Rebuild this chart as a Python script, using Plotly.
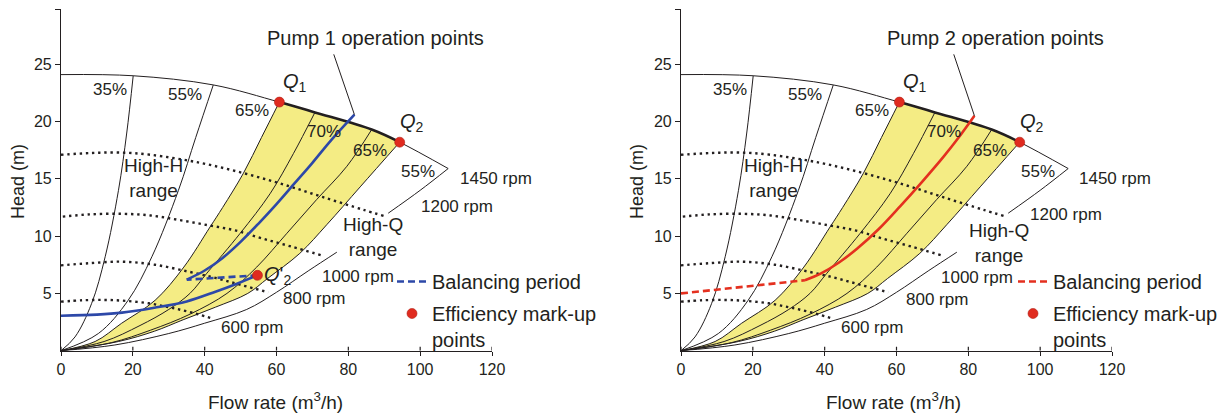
import plotly.graph_objects as go

# ---------------- data ----------------
x_ticks = [0, 20, 40, 60, 80, 100, 120]
y_ticks = [5, 10, 15, 20, 25]
y_top = 29.8

# 1450 rpm head curve
head_q = [0, 20.1, 42.4, 60.8, 70.7, 86.5, 94.3, 107.8]
head_h = [24.1, 24.0, 23.2, 21.7, 20.8, 19.3, 18.2, 15.9]

# iso-efficiency curves
eff35_q = [0, 3.9, 8.5, 12.3, 16.0, 18.3, 20.1]
eff35_h = [0, 1.2, 4.1, 8.2, 14.0, 19.0, 24.0]
eff55_left_q = [0, 10.4, 18.7, 25.3, 32.7, 37.5, 42.4]
eff55_left_h = [0, 1.5, 4.4, 8.2, 14.0, 18.6, 23.2]
eff65_left_q = [0, 9.5, 16.9, 26.2, 34.2, 41.5, 45.0, 50.8, 55.8, 60.8]
eff65_left_h = [0, 0.8, 2.4, 4.4, 7.3, 10.8, 12.5, 15.5, 18.6, 21.7]
eff70_left_q = [0, 12, 22, 30, 35.9, 40.6, 49.9, 58.2, 64.7, 70.7]
eff70_left_h = [0, 0.8, 2.2, 3.6, 5.0, 6.76, 10.25, 13.7, 17.2, 20.8]
eff70_right_q = [0, 14, 25, 36, 46.2, 54.5, 62.9, 71.2, 79.6, 86.5]
eff70_right_h = [0, 0.7, 1.8, 3.2, 5.0, 7.3, 10.25, 13.2, 16.1, 19.3]
eff65_right_q = [0, 16, 26, 34, 43, 52, 57.5, 66.5, 74, 83.3, 94.3]
eff65_right_h = [0, 0.8, 1.7, 2.7, 3.8, 5.0, 6.3, 8.5, 11.0, 14.3, 18.2]
eff55_right_low_q = [0, 15, 30, 40, 51.7, 60, 69, 76.8]
eff55_right_low_h = [0, 0.5, 1.5, 2.4, 3.6, 5.1, 7.0, 8.6]
eff55_right_high_q = [91.1, 100, 107.8]
eff55_right_high_h = [12.0, 14.0, 15.9]

# reduced-speed head curves (dotted)
rpm1200_q = [0, 8, 16, 25, 38.7, 50.8, 62, 73, 84.2, 90]
rpm1200_h = [17.1, 17.25, 17.3, 17.1, 16.4, 15.5, 14.5, 13.4, 12.3, 11.75]
rpm1000_q = [0.5, 8, 17, 25, 33, 41, 48.5, 56, 64, 72.3]
rpm1000_h = [11.7, 11.9, 11.95, 11.8, 11.4, 10.95, 10.5, 9.8, 9.1, 8.35]
rpm800_q = [0, 7.6, 16.9, 26.2, 35.5, 43, 50, 57.7]
rpm800_h = [7.45, 7.63, 7.77, 7.5, 6.9, 6.35, 5.75, 5.1]
rpm600_q = [0, 6, 12.3, 18, 24.3, 30, 35.5, 42]
rpm600_h = [4.28, 4.4, 4.43, 4.35, 4.14, 3.8, 3.4, 2.83]

# pump 1 operation points
pump1_low_q = [0, 10, 17, 26, 35, 43, 49, 54.7]
pump1_low_h = [3.05, 3.15, 3.32, 3.75, 4.3, 5.15, 5.85, 6.58]
pump1_bal_q = [54.7, 35]
pump1_bal_h = [6.58, 6.2]
pump1_up_q = [35, 40, 45, 50, 55, 60, 65, 70, 75, 81.7]
pump1_up_h = [6.2, 7.0, 8.1, 9.5, 11.1, 12.8, 14.6, 16.4, 18.3, 20.6]

# pump 2 operation points
pump2_bal_q = [0, 34.5]
pump2_bal_h = [5.0, 6.15]
pump2_up_q = [34.5, 39, 44, 49, 55, 61, 67, 73, 78, 81.7]
pump2_up_h = [6.15, 6.75, 7.7, 8.9, 10.6, 12.6, 14.7, 16.9, 18.9, 20.5]

# efficiency mark-up points (Q1, Q2, Q'2)
markup1_q = [60.8, 94.3, 54.7]
markup1_h = [21.7, 18.2, 6.58]
markup2_q = [60.8, 94.3]
markup2_h = [21.7, 18.2]

eff_labels = ["35%", "55%", "65%", "70%", "65%", "55%"]
rpm_labels = ["1450 rpm", "1200 rpm", "1000 rpm", "800 rpm", "600 rpm"]

# ---------------- styling ----------------
FONT = "Liberation Sans, Arial, Helvetica, sans-serif"
INK = "#231F20"
YELLOW = "#F4EC84"
BLUE = "#2D48A8"
RED = "#E4301F"
DOT = "#E02B1F"

W, H = 1227, 417
OFF = 8  # page body margin


def px(x):
    return (x - OFF) / W


def py(y):
    return (H - (y - OFF)) / H


X_DOM = [(px(61), px(492)), (px(681), px(1112))]
Y_DOM = (py(350.7), py(9.3))


def joined(segs):
    xs, ys = [], []
    for q, h in segs:
        if xs:
            xs.append(None)
            ys.append(None)
        xs += list(q)
        ys += list(h)
    return xs, ys


eff_x, eff_y = joined([
    (eff35_q, eff35_h), (eff55_left_q, eff55_left_h),
    (eff65_left_q, eff65_left_h), (eff70_left_q, eff70_left_h),
    (eff70_right_q, eff70_right_h), (eff65_right_q, eff65_right_h),
    (eff55_right_low_q, eff55_right_low_h), (eff55_right_high_q, eff55_right_high_h)])
rpm_x, rpm_y = joined([(rpm1200_q, rpm1200_h), (rpm1000_q, rpm1000_h),
                       (rpm800_q, rpm800_h), (rpm600_q, rpm600_h)])

i1 = head_q.index(markup2_q[0])
i2 = head_q.index(markup2_q[1])
yellow_x = eff65_left_q + head_q[i1:i2 + 1] + eff65_right_q[::-1]
yellow_y = eff65_left_h + head_h[i1:i2 + 1] + eff65_right_h[::-1]

panels = [
    dict(xr="x", yr="y", solid=[(pump1_low_q, pump1_low_h), (pump1_up_q, pump1_up_h)],
         bal=(pump1_bal_q, pump1_bal_h), top=(pump1_up_q[-1], pump1_up_h[-1]),
         color=BLUE, marks=(markup1_q, markup1_h), legend="legend",
         title="Pump 1 operation points",
         rpm_pos=[(110.6, 15.05, "left"), (110.2, 12.6, "center"), (82.6, 6.5, "center"),
                  (70.5, 4.55, "center"), (53.1, 2.04, "center")],
         highq=(86.8, 9.9)),
    dict(xr="x2", yr="y2", solid=[(pump2_up_q, pump2_up_h)],
         bal=(pump2_bal_q, pump2_bal_h), top=(pump2_up_q[-1], pump2_up_h[-1]),
         color=RED, marks=(markup2_q, markup2_h), legend="legend2",
         title="Pump 2 operation points",
         rpm_pos=[(110.3, 15.05, "left"), (107.2, 11.85, "center"), (82.4, 6.4, "center"),
                  (71.2, 4.5, "center"), (53.1, 2.04, "center")],
         highq=(88.4, 9.4)),
]

eff_pos = [(13.6, 22.83), (34.5, 22.33), (53.2, 21.0), (73.1, 19.1), (86.1, 17.5), (99.3, 15.6)]

fig = go.Figure()
annotations = []

for p in panels:
    xr, yr = p["xr"], p["yr"]
    common = dict(xaxis=xr, yaxis=yr, hoverinfo="skip", showlegend=False)
    fig.add_trace(go.Scatter(x=yellow_x, y=yellow_y, mode="lines", fill="toself",
                             fillcolor=YELLOW, line=dict(width=0, shape="spline", simplify=False),
                             **common))
    fig.add_trace(go.Scatter(x=eff_x, y=eff_y, mode="lines",
                             line=dict(color=INK, width=1, shape="spline"), **common))
    fig.add_trace(go.Scatter(x=head_q, y=head_h, mode="lines",
                             line=dict(color=INK, width=1, shape="spline"), **common))
    fig.add_trace(go.Scatter(x=head_q[i1:i2 + 1], y=head_h[i1:i2 + 1], mode="lines",
                             line=dict(color=INK, width=2.6, shape="spline"), **common))
    fig.add_trace(go.Scatter(x=rpm_x, y=rpm_y, mode="lines",
                             line=dict(color=INK, width=2.4, dash="2.4px,3.8px", shape="spline"),
                             **common))
    sx, sy = joined(p["solid"])
    fig.add_trace(go.Scatter(x=sx, y=sy, mode="lines",
                             line=dict(color=p["color"], width=2.6, shape="spline"), **common))
    fig.add_trace(go.Scatter(x=p["bal"][0], y=p["bal"][1], mode="lines", name="Balancing period",
                             line=dict(color=p["color"], width=2.6, dash="7px,4px"),
                             xaxis=xr, yaxis=yr, hoverinfo="skip", showlegend=True,
                             legend=p["legend"], legendgroup=p["legend"] + "a"))
    fig.add_trace(go.Scatter(x=p["marks"][0], y=p["marks"][1], mode="markers",
                             name="Efficiency mark-up<br>points",
                             marker=dict(color=DOT, size=10, line=dict(color="#B01E14", width=0.6)),
                             xaxis=xr, yaxis=yr, hoverinfo="skip", showlegend=True,
                             legend=p["legend"], legendgroup=p["legend"] + "b", cliponaxis=False))

    def ann(text, x, y, size=17, xanchor="center", **kw):
        d = dict(text=text, x=x, y=y, xref=xr, yref=yr, showarrow=False,
                 xanchor=xanchor, yanchor="middle",
                 font=dict(family=FONT, size=size, color=INK))
        d.update(kw)
        annotations.append(d)

    for t, (x, y) in zip(eff_labels, eff_pos):
        ann(t, x, y)
    for t, (x, y, a) in zip(rpm_labels, p["rpm_pos"]):
        ann(t, x, y, xanchor=a)
    ann("High-H<br>range", 25.7, 15.1, size=19)
    ann("High-Q<br>range", p["highq"][0], p["highq"][1], size=19)
    ann("<i>Q</i><sub>1</sub>", 65.2, 23.4, size=20)
    ann("<i>Q</i><sub>2</sub>", 97.7, 19.9, size=20)
    if p["xr"] == "x":
        ann("<i>Q</i>'<sub>2</sub>", 60.2, 6.6, size=20)
    ann(p["title"], 87.5, 27.3, size=20)
    annotations.append(dict(x=p["top"][0], y=p["top"][1], ax=75.8, ay=26.0,
                            xref=xr, yref=yr, axref=xr, ayref=yr, text="",
                            showarrow=True, arrowhead=0, arrowwidth=1, arrowcolor=INK,
                            standoff=0, startstandoff=0))

# axis titles
for cx, hx in [(275, 18), (893, 637)]:
    annotations.append(dict(text="Flow rate (m<sup>3</sup>/h)", x=px(cx), y=py(401),
                            xref="paper", yref="paper", showarrow=False,
                            xanchor="center", yanchor="middle",
                            font=dict(family=FONT, size=19, color=INK)))
    annotations.append(dict(text="Head (m)", x=px(hx), y=py(182), textangle=-90,
                            xref="paper", yref="paper", showarrow=False,
                            xanchor="center", yanchor="middle",
                            font=dict(family=FONT, size=18, color=INK)))

shapes = []
for xr in ["x", "x2"]:
    yr = "y" if xr == "x" else "y2"
    for t in x_ticks:
        shapes.append(dict(type="line", xref=xr, yref=yr, x0=t, x1=t, ysizemode="pixel",
                           yanchor=0, y0=0, y1=4, line=dict(color=INK, width=1.2)))

axis_x = dict(range=[0, 120], tickvals=x_ticks, ticks="outside", ticklen=4, tickwidth=1.2,
              tickcolor=INK, showline=True, linecolor=INK, linewidth=1.2, showgrid=False,
              zeroline=False, tickfont=dict(family=FONT, size=16, color=INK), automargin=False)
axis_y = dict(range=[0, y_top], tickvals=y_ticks + [y_top],
              ticktext=[str(v) for v in y_ticks] + [""],
              ticks="outside", ticklen=5, tickwidth=1.2, tickcolor=INK, showline=True,
              linecolor=INK, linewidth=1.2, showgrid=False, zeroline=False,
              tickfont=dict(family=FONT, size=16, color=INK), automargin=False)

legend_common = dict(xanchor="left", yanchor="top", bgcolor="rgba(0,0,0,0)",
                     font=dict(family=FONT, size=20, color=INK), valign="top",
                     tracegroupgap=3, itemclick=False, itemdoubleclick=False)

fig.update_layout(
    width=W, height=H, autosize=False,
    margin=dict(l=0, r=0, t=0, b=0),
    paper_bgcolor="white", plot_bgcolor="white",
    font=dict(family=FONT, color=INK),
    xaxis=dict(domain=list(X_DOM[0]), anchor="y", **axis_x),
    yaxis=dict(domain=list(Y_DOM), anchor="x", **axis_y),
    xaxis2=dict(domain=list(X_DOM[1]), anchor="y2", **axis_x),
    yaxis2=dict(domain=list(Y_DOM), anchor="x2", **axis_y),
    legend=dict(x=px(392), y=py(262), **legend_common),
    legend2=dict(x=px(1013), y=py(262), **legend_common),
    annotations=annotations,
    shapes=shapes,
)

fig.write_html("out.html")
